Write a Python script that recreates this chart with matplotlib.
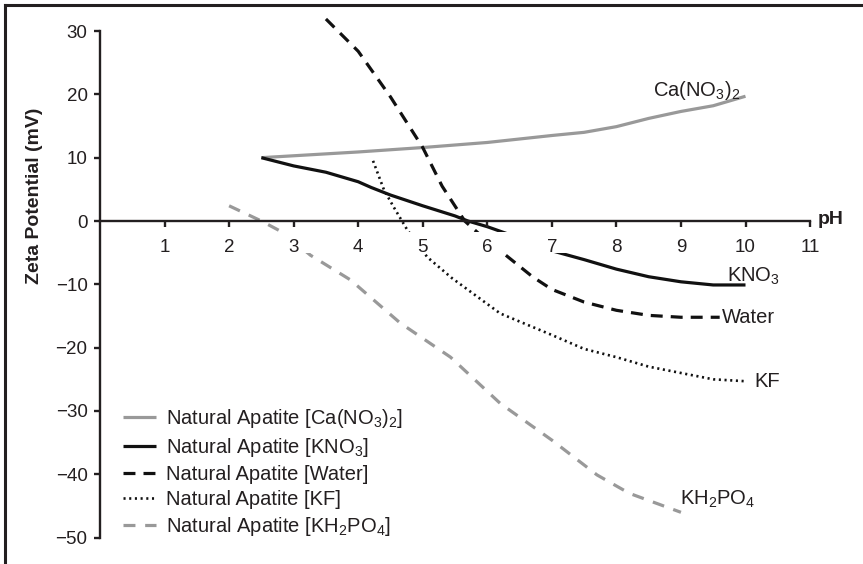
import matplotlib
matplotlib.use("Agg")
import matplotlib.pyplot as plt
from matplotlib.lines import Line2D

plt.rcParams['font.family'] = ['Liberation Sans', 'DejaVu Sans']
plt.rcParams['mathtext.default'] = 'regular'
plt.rcParams['lines.scale_dashes'] = False

# ---- data ----
ca_x = [2.5, 3.0, 4.0, 5.0, 6.0, 7.0, 7.5, 8.0, 8.5, 9.0, 9.5, 10.0]
ca_y = [10.0, 10.3, 10.9, 11.6, 12.4, 13.5, 14.0, 14.9, 16.2, 17.3, 18.2, 19.7]

kno3_x = [2.5, 3.0, 3.5, 4.0, 4.2, 4.5, 5.0, 5.5, 5.7, 6.0, 6.5, 7.0, 7.5, 8.0, 8.5, 9.0, 9.5, 10.0]
kno3_y = [10.0, 8.7, 7.7, 6.2, 5.3, 4.1, 2.4, 0.8, 0.0, -0.9, -2.7, -4.7, -6.1, -7.6, -8.8, -9.6, -10.1, -10.1]

water_x = [3.5, 4.0, 4.5, 5.0, 5.3, 5.65, 6.0, 6.25, 6.7, 7.0, 7.5, 8.0, 8.5, 9.0, 9.6]
water_y = [31.9, 26.8, 19.6, 11.6, 5.5, 0.0, -3.2, -5.1, -8.8, -10.8, -12.8, -14.1, -14.9, -15.2, -15.2]

kf_x = [4.23, 4.4, 4.55, 4.76, 5.07, 5.45, 6.2, 7.0, 7.5, 8.0, 8.5, 9.0, 9.5, 10.0]
kf_y = [9.5, 4.9, 2.2, -1.4, -5.7, -9.0, -14.6, -18.0, -20.2, -21.5, -23.0, -24.0, -25.0, -25.3]

kh_x = [2.0, 2.5, 2.85, 3.26, 3.88, 4.65, 5.43, 6.2, 7.0, 7.7, 8.2, 9.0]
kh_y = [2.4, 0.0, -1.9, -5.4, -9.3, -16.1, -21.5, -28.8, -34.6, -40.1, -43.0, -46.0]

legend_labels = [r'Natural Apatite [Ca(NO$_3$)$_2$]', r'Natural Apatite [KNO$_3$]',
                 'Natural Apatite [Water]', 'Natural Apatite [KF]',
                 r'Natural Apatite [KH$_2$PO$_4$]']
end_labels = [r'Ca(NO$_3$)$_2$', r'KNO$_3$', 'Water', 'KF', r'KH$_2$PO$_4$']
end_pos_x = [8.57, 9.71, 9.64, 10.13, 8.99]
end_pos_y = [19.7, -9.6, -16.1, -26.2, -44.8]

x_ticks = [1, 2, 3, 4, 5, 6, 7, 8, 9, 10, 11]
y_ticks = [-50, -40, -30, -20, -10, 0, 10, 20, 30]

# ---- figure ----
W, H = 863, 564
fig = plt.figure(figsize=(W / 100, H / 100), dpi=100)
xlim = (0, 11.6)
ylim = (-52, 34)
px_per_x = 64.55
px_per_y = 6.333
left_px = 100
right_px = left_px + xlim[1] * px_per_x
y0_px = 221
top_px = y0_px - ylim[1] * px_per_y
bot_px = y0_px - ylim[0] * px_per_y
ax = fig.add_axes([left_px / W, (H - bot_px) / H, (right_px - left_px) / W, (bot_px - top_px) / H])
ax.set_xlim(*xlim)
ax.set_ylim(*ylim)
ax.patch.set_alpha(0)
ax.set_axisbelow(False)

gray = '#999999'
black = '#111111'
l1, = ax.plot(ca_x, ca_y, color=gray, lw=2.3, solid_capstyle='butt')
l2, = ax.plot(kno3_x, kno3_y, color=black, lw=2.3, solid_capstyle='butt')
l3, = ax.plot(water_x, water_y, color=black, lw=2.3, linestyle=(0, (8.6, 5.8)))
l4, = ax.plot(kf_x, kf_y, color=black, lw=1.9, linestyle=(0, (1.5, 2.6)))
l5, = ax.plot(kh_x, kh_y, color=gray, lw=2.3, linestyle=(0, (8.6, 7.0)))

# white band behind x tick labels
ax.axhspan(-5.1, -1.75, xmin=0.2 / xlim[1], xmax=11.0 / xlim[1], color='white', zorder=2.3, lw=0)

# spines
for s in ['top', 'right']:
    ax.spines[s].set_visible(False)
ax.spines['left'].set_bounds(-50, 30)
ax.spines['bottom'].set_position(('data', 0))
ax.spines['bottom'].set_bounds(0, 11)
for s in ['left', 'bottom']:
    ax.spines[s].set_linewidth(1.7)
    ax.spines[s].set_color('#231f20')
    ax.spines[s].set_zorder(2.6)

ax.set_xticks(x_ticks)
ax.set_xticklabels([str(v) for v in x_ticks])
ax.set_yticks(y_ticks)
ax.set_yticklabels([str(v) if v >= 0 else '\u2212' + str(-v) for v in y_ticks])
ax.tick_params(axis='x', direction='out', length=4, width=1.7, pad=9, labelsize=13.5, colors='#231f20')
ax.tick_params(axis='y', direction='out', length=4, width=1.7, pad=5, labelsize=13.5, colors='#231f20')

ax.text(11.12, 0.3, 'pH', fontsize=14, fontweight='bold', ha='left', va='center', color='#231f20')
ax.text((35 - left_px) / px_per_x, (y0_px - 196) / px_per_y, 'Zeta Potential (mV)', rotation=90,
        fontsize=14, fontweight='bold', ha='center', va='center', clip_on=False, color='#231f20')

for lab, x, y in zip(end_labels, end_pos_x, end_pos_y):
    ax.text(x, y, lab, fontsize=14.5, ha='left', va='baseline', color='#231f20')

leg = ax.legend([l1, l2, l3, l4, l5], legend_labels, loc='upper left',
                bbox_to_anchor=(123 / W, (H - 407) / H), bbox_transform=fig.transFigure,
                frameon=False, fontsize=14.5, borderpad=0, borderaxespad=0,
                handlelength=1.65, handletextpad=0.5, labelspacing=0.3)
for t in leg.get_texts():
    t.set_color('#231f20')

# figure border (top and left only)
fig.add_artist(Line2D([4.5 / W, 1.0], [1 - 4.5 / H, 1 - 4.5 / H], transform=fig.transFigure,
                      color='#231f20', lw=2.2, solid_capstyle='projecting'))
fig.add_artist(Line2D([4.5 / W, 4.5 / W], [0, 1 - 4.5 / H], transform=fig.transFigure,
                      color='#231f20', lw=2.2, solid_capstyle='projecting'))

fig.savefig('out.png', dpi=100)
